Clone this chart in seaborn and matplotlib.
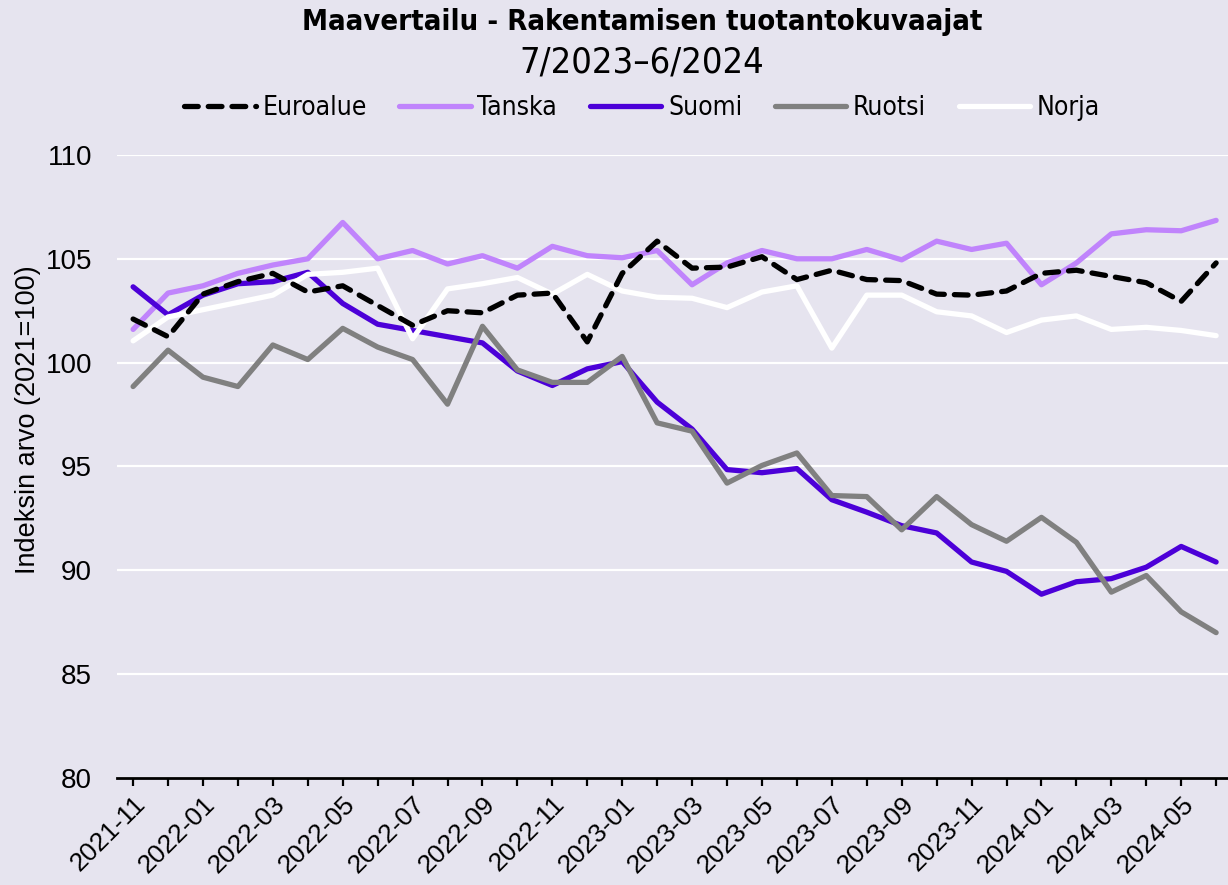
import matplotlib
matplotlib.use('Agg')
import matplotlib.pyplot as plt
import seaborn as sns
import numpy as np
import pandas as pd

# kuukaudet 2021-11 ... 2024-06
months = pd.period_range('2021-11', '2024-06', freq='M').strftime('%Y-%m').tolist()

euroalue = [102.1, 101.25, 103.3, 103.9, 104.3, 103.4, 103.7, 102.75, 101.8, 102.5, 102.4, 103.25,
            103.35, 101.0, 104.3, 105.85, 104.55, 104.6, 105.1, 104.0, 104.45, 104.0, 103.95, 103.3,
            103.25, 103.45, 104.3, 104.45, 104.15, 103.85, 102.95, 104.8]
tanska = [101.6, 103.35, 103.7, 104.3, 104.7, 105.0, 106.75, 105.0, 105.4, 104.75, 105.15, 104.55,
          105.6, 105.15, 105.05, 105.4, 103.75, 104.8, 105.4, 105.0, 105.0, 105.45, 104.95, 105.85,
          105.45, 105.75, 103.75, 104.8, 106.2, 106.4, 106.35, 106.85]
suomi = [103.65, 102.3, 103.25, 103.8, 103.9, 104.35, 102.85, 101.85, 101.55, 101.25, 100.95, 99.6,
         98.9, 99.7, 100.05, 98.1, 96.8, 94.85, 94.7, 94.9, 93.4, 92.8, 92.15, 91.8,
         90.4, 89.95, 88.85, 89.45, 89.6, 90.15, 91.15, 90.4]
ruotsi = [98.85, 100.6, 99.3, 98.85, 100.85, 100.15, 101.65, 100.75, 100.15, 98.0, 101.75, 99.65,
          99.05, 99.05, 100.3, 97.1, 96.7, 94.2, 95.05, 95.65, 93.6, 93.55, 91.95, 93.55,
          92.2, 91.4, 92.55, 91.35, 88.95, 89.75, 88.0, 87.0]
norja = [101.05, 102.2, 102.55, 102.9, 103.25, 104.25, 104.35, 104.55, 101.15, 103.55, 103.8, 104.1,
         103.3, 104.25, 103.45, 103.15, 103.1, 102.65, 103.4, 103.7, 100.7, 103.25, 103.25, 102.45,
         102.25, 101.45, 102.05, 102.25, 101.6, 101.7, 101.55, 101.3]

series = {'Euroalue': euroalue, 'Tanska': tanska, 'Suomi': suomi, 'Ruotsi': ruotsi, 'Norja': norja}
colors = {'Euroalue': 'black', 'Tanska': '#C084FC', 'Suomi': '#4C00D8', 'Ruotsi': '#808080', 'Norja': 'white'}
draw_order = ['Tanska', 'Suomi', 'Ruotsi', 'Norja', 'Euroalue']

df = pd.DataFrame({'kk': np.arange(len(months))})
for name, vals in series.items():
    df[name] = vals
long_df = df.melt(id_vars='kk', var_name='maa', value_name='arvo')

bg = '#E6E4EF'
sns.set_theme(style='darkgrid', rc={'axes.facecolor': bg, 'figure.facecolor': bg,
                                    'grid.color': 'white', 'grid.linewidth': 1.6})
plt.rcParams['font.family'] = ['Liberation Sans', 'DejaVu Sans']
for k in ['text.color', 'axes.labelcolor', 'xtick.color', 'ytick.color']:
    plt.rcParams[k] = 'black'
narrow = ['DejaVu Sans']

fig = plt.figure(figsize=(12.28, 8.85), dpi=100)
ax = fig.add_axes([0.0953, 0.1209, 0.9047, 0.704])

handles = {}
for name in draw_order:
    sub = long_df[long_df['maa'] == name]
    sns.lineplot(data=sub, x='kk', y='arvo', ax=ax, color=colors[name], linewidth=3.8,
                 label=name, legend=False)
    line = ax.get_lines()[-1]
    line.set_solid_capstyle('round')
    if name == 'Euroalue':
        line.set_linestyle((0, (2.6, 1.9)))
        line.set_dash_capstyle('round')
    handles[name] = line

ax.set_xlim(-0.46, len(months) - 1 + 0.34)
ax.set_ylim(80, 110)
ax.set_yticks([80, 85, 90, 95, 100, 105, 110])
ax.grid(axis='x', visible=False)
ax.set_xticks(range(len(months)))
ax.set_xticklabels([m if i % 2 == 0 else '' for i, m in enumerate(months)],
                   rotation=45, ha='right', rotation_mode='anchor', fontsize=19)
ax.tick_params(axis='x', bottom=True, length=6, width=1.6, color='black', pad=4)
ax.tick_params(axis='y', length=0, pad=18, labelsize=20)
for s in ['top', 'right', 'left']:
    ax.spines[s].set_visible(False)
ax.spines['bottom'].set_visible(True)
ax.spines['bottom'].set_color('black')
ax.spines['bottom'].set_linewidth(2)
ax.set_xlabel('')
ax.set_ylabel('Indeksin arvo (2021=100)', fontsize=19.5, labelpad=2)
ax.yaxis.set_label_coords(-0.068, 0.575)

fig.text(0.523, 0.975, 'Maavertailu - Rakentamisen tuotantokuvaajat', ha='center', va='center',
         fontsize=21, fontweight='semibold', family=narrow, stretch='condensed')
fig.text(0.523, 0.929, '7/2023\u20136/2024', ha='center', va='center', fontsize=26,
         family=narrow, stretch='condensed')

leg_order = ['Euroalue', 'Tanska', 'Suomi', 'Ruotsi', 'Norja']
fig.legend([handles[n] for n in leg_order], leg_order, loc='center', bbox_to_anchor=(0.523, 0.878),
           ncol=5, frameon=False, prop={'family': narrow, 'size': 19, 'stretch': 'condensed'},
           handlelength=2.7, handletextpad=0.25, columnspacing=1.25)

plt.savefig('out.png', dpi=100, facecolor=bg)
